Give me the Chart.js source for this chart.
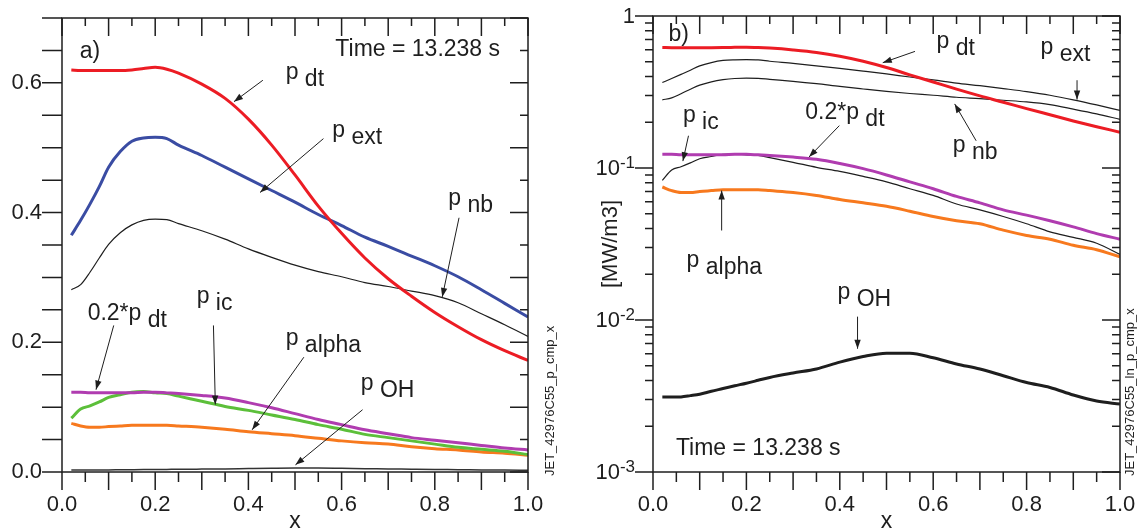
<!DOCTYPE html>
<html>
<head>
<meta charset="utf-8">
<script src="https://cdn.jsdelivr.net/npm/chart.js@4"></script>
<style>
  body { margin: 0; background: #fff; }
  #wrap { position: relative; width: 1143px; height: 531px; overflow: hidden; }
  canvas { position: absolute; top: 0; }
  #left { left: 0; }
  #right { left: 560px; }
</style>
</head>
<body>
<div id="wrap">
  <canvas id="left" width="560" height="531"></canvas>
  <canvas id="right" width="583" height="531"></canvas>
</div>
<script>
// power density profiles [MW/m3] vs x, JET 42976, t = 13.238 s
const xs =     [0.02, 0.04, 0.06, 0.08, 0.1, 0.125, 0.15, 0.175, 0.2, 0.225, 0.25, 0.3, 0.35, 0.4, 0.45, 0.5, 0.55, 0.6, 0.65, 0.7, 0.75, 0.8, 0.85, 0.9, 0.95, 1.0];
const pDt =    [0.620, 0.619, 0.619, 0.619, 0.619, 0.619, 0.620, 0.622, 0.624, 0.621, 0.615, 0.598, 0.576, 0.544, 0.504, 0.458, 0.410, 0.368, 0.330, 0.298, 0.271, 0.246, 0.224, 0.204, 0.187, 0.172];
const pExt =   [0.365, 0.388, 0.413, 0.440, 0.470, 0.494, 0.510, 0.515, 0.516, 0.514, 0.504, 0.488, 0.470, 0.452, 0.434, 0.416, 0.397, 0.380, 0.362, 0.348, 0.333, 0.318, 0.301, 0.281, 0.260, 0.239];
const pNb =    [0.281, 0.289, 0.308, 0.330, 0.351, 0.369, 0.381, 0.388, 0.390, 0.389, 0.383, 0.372, 0.359, 0.344, 0.331, 0.319, 0.309, 0.301, 0.292, 0.286, 0.279, 0.272, 0.261, 0.244, 0.227, 0.209];
const pDt02 =  [0.123, 0.123, 0.122, 0.122, 0.122, 0.122, 0.122, 0.123, 0.123, 0.122, 0.121, 0.118, 0.114, 0.107, 0.099, 0.090, 0.081, 0.073, 0.065, 0.059, 0.053, 0.049, 0.045, 0.041, 0.037, 0.034];
const pIc =    [0.083, 0.097, 0.102, 0.108, 0.115, 0.119, 0.123, 0.124, 0.122, 0.121, 0.117, 0.109, 0.101, 0.095, 0.088, 0.081, 0.073, 0.066, 0.058, 0.053, 0.048, 0.043, 0.038, 0.035, 0.032, 0.027];
const pAlpha = [0.075, 0.071, 0.069, 0.069, 0.070, 0.071, 0.072, 0.072, 0.072, 0.072, 0.071, 0.069, 0.066, 0.062, 0.059, 0.056, 0.052, 0.048, 0.045, 0.043, 0.039, 0.036, 0.034, 0.031, 0.029, 0.026];
const pOH =    [0.00311, 0.00311, 0.00312, 0.00318, 0.00325, 0.0034, 0.00354, 0.00369, 0.00384, 0.00401, 0.00419, 0.00448, 0.00476, 0.00528, 0.00575, 0.00605, 0.00605, 0.00564, 0.00514, 0.00476, 0.0043, 0.00388, 0.0036, 0.00321, 0.00293, 0.0028];

// ticks
const xLabelVals = [0, 0.2, 0.4, 0.6, 0.8, 1.0];
const xTickVals = [0, 0.05, 0.1, 0.15, 0.2, 0.25, 0.3, 0.35, 0.4, 0.45, 0.5, 0.55, 0.6, 0.65, 0.7, 0.75, 0.8, 0.85, 0.9, 0.95, 1.0];
const linLabelVals = [0, 0.2, 0.4, 0.6];
const linTickVals = [0, 0.05, 0.1, 0.15, 0.2, 0.25, 0.3, 0.35, 0.4, 0.45, 0.5, 0.55, 0.6, 0.65, 0.7];
const logLabelVals = [1, 0.1, 0.01, 0.001];
const logLabelExp = ['', '-1', '-2', '-3'];
const logMajorVals = [0.001, 0.01, 0.1, 1];
const logMinorVals = [0.002, 0.003, 0.004, 0.005, 0.006, 0.007, 0.008, 0.009,
                      0.02, 0.03, 0.04, 0.05, 0.06, 0.07, 0.08, 0.09,
                      0.2, 0.3, 0.4, 0.5, 0.6, 0.7, 0.8, 0.9];

const FONT = "'Liberation Sans', Arial, Helvetica, sans-serif";
const INK = '#1e1e1e';
Chart.defaults.font.family = FONT;
Chart.defaults.color = INK;

const RED = '#ec1c24', BLUE = '#3a4ca3', MAGENTA = '#b03cb0', GREEN = '#5cbf3a', ORANGE = '#f7791e';

function ds(ys, color, w) {
  return {
    data: xs.map((x, i) => ({x: x, y: ys[i]})),
    borderColor: color, borderWidth: w, pointRadius: 0, fill: false,
    cubicInterpolationMode: 'monotone'
  };
}

function arrow(ctx, x1, y1, x2, y2) {
  ctx.beginPath(); ctx.moveTo(x1, y1); ctx.lineTo(x2, y2); ctx.stroke();
  const a = Math.atan2(y2 - y1, x2 - x1), L = 9, W = 3.2;
  const bx = x2 - L * Math.cos(a), by = y2 - L * Math.sin(a);
  ctx.beginPath();
  ctx.moveTo(x2, y2);
  ctx.lineTo(bx + W * Math.sin(a), by - W * Math.cos(a));
  ctx.lineTo(bx - W * Math.sin(a), by + W * Math.cos(a));
  ctx.closePath(); ctx.fill();
}

// main text raised, subscript on the given baseline
function label(ctx, x, y, main, sub) {
  ctx.font = '23px ' + FONT;
  ctx.textAlign = 'left'; ctx.textBaseline = 'alphabetic';
  ctx.fillText(main, x, y - 7);
  if (sub) ctx.fillText(sub, x + ctx.measureText(main + ' ').width, y);
}

function makeDeco(cfg) {
  return {
    id: 'deco',
    afterDraw(chart) {
      const {ctx, chartArea: a, scales: {x, y}} = chart;
      const X = v => x.getPixelForValue(v), Y = v => y.getPixelForValue(v);
      ctx.save();
      ctx.strokeStyle = INK; ctx.fillStyle = INK;
      ctx.lineWidth = 1.5;
      ctx.strokeRect(a.left, a.top, a.right - a.left, a.bottom - a.top);
      ctx.beginPath();
      xTickVals.forEach((v, i) => {
        const px = X(v), major = i % 2 === 0;
        ctx.moveTo(px, a.bottom); ctx.lineTo(px, a.bottom + (major ? 18 : 10));
        ctx.moveTo(px, a.top); ctx.lineTo(px, a.top + (major ? 18 : 8));
      });
      cfg.yTicks.forEach(t => {
        const py = Y(t.v);
        ctx.moveTo(a.left, py); ctx.lineTo(a.left - t.out, py);
        ctx.moveTo(a.right, py); ctx.lineTo(a.right - t.inn, py);
      });
      ctx.stroke();

      // log tick labels 10^n
      if (cfg.logLabels) {
        logLabelVals.forEach((v, i) => {
          const py = Y(v) + 7, xr = a.left - 18;
          const e = logLabelExp[i];
          ctx.textAlign = 'left'; ctx.textBaseline = 'alphabetic';
          ctx.font = '17px ' + FONT;
          const sw = e ? ctx.measureText(e).width : 0;
          ctx.font = '22px ' + FONT;
          const m = e ? '10' : '1';
          const mw = ctx.measureText(m).width;
          ctx.fillText(m, xr - sw - mw, py);
          if (e) { ctx.font = '17px ' + FONT; ctx.fillText(e, xr - sw, py - 7); }
        });
      }

      // annotations
      ctx.lineWidth = 1;
      cfg.notes.forEach(n => label(ctx, X(n.x), Y(n.y), n.main, n.sub));
      cfg.arrows.forEach(r => arrow(ctx, X(r[0]), Y(r[1]), X(r[2]), Y(r[3])));

      ctx.font = '23px ' + FONT; ctx.textBaseline = 'alphabetic';
      ctx.textAlign = cfg.time.align;
      ctx.fillText('Time = 13.238 s', X(cfg.time.x), Y(cfg.time.y));
      ctx.textAlign = 'left';
      ctx.fillText(cfg.tag.text, X(cfg.tag.x), Y(cfg.tag.y));

      // file id, rotated
      ctx.font = '13px ' + FONT;
      ctx.translate(cfg.jet.x, cfg.jet.y);
      ctx.rotate(-Math.PI / 2);
      ctx.textBaseline = 'middle';
      ctx.fillText(cfg.jet.text, 0, 0);
      ctx.restore();
    }
  };
}

function xScale() {
  return {
    type: 'linear', min: 0, max: 1,
    grid: {display: false}, border: {display: false},
    afterBuildTicks: s => { s.ticks = xLabelVals.map(v => ({value: v})); },
    ticks: {padding: 12, font: {size: 22}, maxRotation: 0, autoSkip: false, callback: v => v.toFixed(1)},
    title: {display: true, text: 'x', font: {size: 23}, padding: {top: 0, bottom: -4}},
    afterFit: s => { s.height = 59; s.paddingLeft = 0; s.paddingRight = 0; }
  };
}

// left panel: linear
new Chart(document.getElementById('left'), {
  type: 'line',
  data: {datasets: [
    ds(pDt, RED, 3), ds(pExt, BLUE, 3), ds(pNb, INK, 1.2), ds(pDt02, MAGENTA, 3),
    ds(pIc, GREEN, 3), ds(pAlpha, ORANGE, 3), ds(pOH, '#333', 1.5)
  ]},
  options: {
    responsive: false, animation: false, devicePixelRatio: 1,
    layout: {padding: {top: 18, right: 32, left: 0, bottom: 0}},
    plugins: {legend: {display: false}, tooltip: {enabled: false}},
    scales: {
      x: xScale(),
      y: {
        type: 'linear', min: 0, max: 0.7,
        grid: {display: false}, border: {display: false},
        afterBuildTicks: s => { s.ticks = linLabelVals.map(v => ({value: v})); },
        ticks: {padding: 12, font: {size: 22}, callback: v => v.toFixed(1)},
        afterFit: s => { s.width = 62; s.paddingTop = 0; s.paddingBottom = 0; }
      }
    }
  },
  plugins: [makeDeco({
    yTicks: linTickVals.map((v, i) => ({v: v, out: 20, inn: i % 2 === 0 ? 18 : 8})),
    notes: [
      {x: 0.480, y: 0.595, main: 'p', sub: 'dt'},
      {x: 0.580, y: 0.505, main: 'p', sub: 'ext'},
      {x: 0.829, y: 0.401, main: 'p', sub: 'nb'},
      {x: 0.055, y: 0.223, main: '0.2*p', sub: 'dt'},
      {x: 0.289, y: 0.250, main: 'p', sub: 'ic'},
      {x: 0.480, y: 0.185, main: 'p', sub: 'alpha'},
      {x: 0.641, y: 0.115, main: 'p', sub: 'OH'}
    ],
    arrows: [
      [0.431, 0.604, 0.369, 0.571],
      [0.561, 0.514, 0.425, 0.431],
      [0.852, 0.392, 0.816, 0.270],
      [0.111, 0.226, 0.073, 0.127],
      [0.325, 0.226, 0.329, 0.104],
      [0.519, 0.177, 0.408, 0.065],
      [0.645, 0.096, 0.501, 0.011]
    ],
    time: {x: 0.94, y: 0.642, align: 'right'},
    tag: {text: 'a)', x: 0.038, y: 0.639},
    jet: {text: 'JET_42976C55_p_cmp_x', x: 550, y: 476}
  })]
});

// right panel: logarithmic
new Chart(document.getElementById('right'), {
  type: 'line',
  data: {datasets: [
    ds(pDt, RED, 3), ds(pExt, INK, 1.2), ds(pNb, INK, 1.2), ds(pDt02, MAGENTA, 3),
    ds(pIc, INK, 1.2), ds(pAlpha, ORANGE, 3), ds(pOH, INK, 3)
  ]},
  options: {
    responsive: false, animation: false, devicePixelRatio: 1,
    layout: {padding: {top: 16, right: 23, left: 0, bottom: 0}},
    plugins: {legend: {display: false}, tooltip: {enabled: false}},
    scales: {
      x: xScale(),
      y: {
        type: 'logarithmic', min: 0.001, max: 1,
        grid: {display: false}, border: {display: false},
        ticks: {display: false},
        title: {display: true, text: '[MW/m3]', font: {size: 22}, padding: {top: 38, bottom: 0}},
        afterFit: s => { s.width = 93; s.paddingTop = 0; s.paddingBottom = 0; }
      }
    }
  },
  plugins: [makeDeco({
    yTicks: logMajorVals.map(v => ({v: v, out: 18, inn: 18}))
      .concat(logMinorVals.map(v => ({v: v, out: 8, inn: 8}))),
    logLabels: true,
    notes: [
      {x: 0.607, y: 0.555, main: 'p', sub: 'dt'},
      {x: 0.830, y: 0.506, main: 'p', sub: 'ext'},
      {x: 0.642, y: 0.114, main: 'p', sub: 'nb'},
      {x: 0.064, y: 0.180, main: 'p', sub: 'ic'},
      {x: 0.326, y: 0.190, main: '0.2*p', sub: 'dt'},
      {x: 0.072, y: 0.0201, main: 'p', sub: 'alpha'},
      {x: 0.395, y: 0.01227, main: 'p', sub: 'OH'}
    ],
    arrows: [
      [0.561, 0.585, 0.492, 0.493],
      [0.908, 0.378, 0.908, 0.282],
      [0.692, 0.151, 0.646, 0.264],
      [0.076, 0.163, 0.064, 0.111],
      [0.399, 0.190, 0.334, 0.118],
      [0.147, 0.0388, 0.147, 0.0710],
      [0.438, 0.01052, 0.438, 0.00647]
    ],
    time: {x: 0.049, y: 0.00129, align: 'left'},
    tag: {text: 'b)', x: 0.033, y: 0.681},
    jet: {text: 'JET_42976C55_ln_p_cmp_x', x: 570, y: 476}
  })]
});
</script>
</body>
</html>
